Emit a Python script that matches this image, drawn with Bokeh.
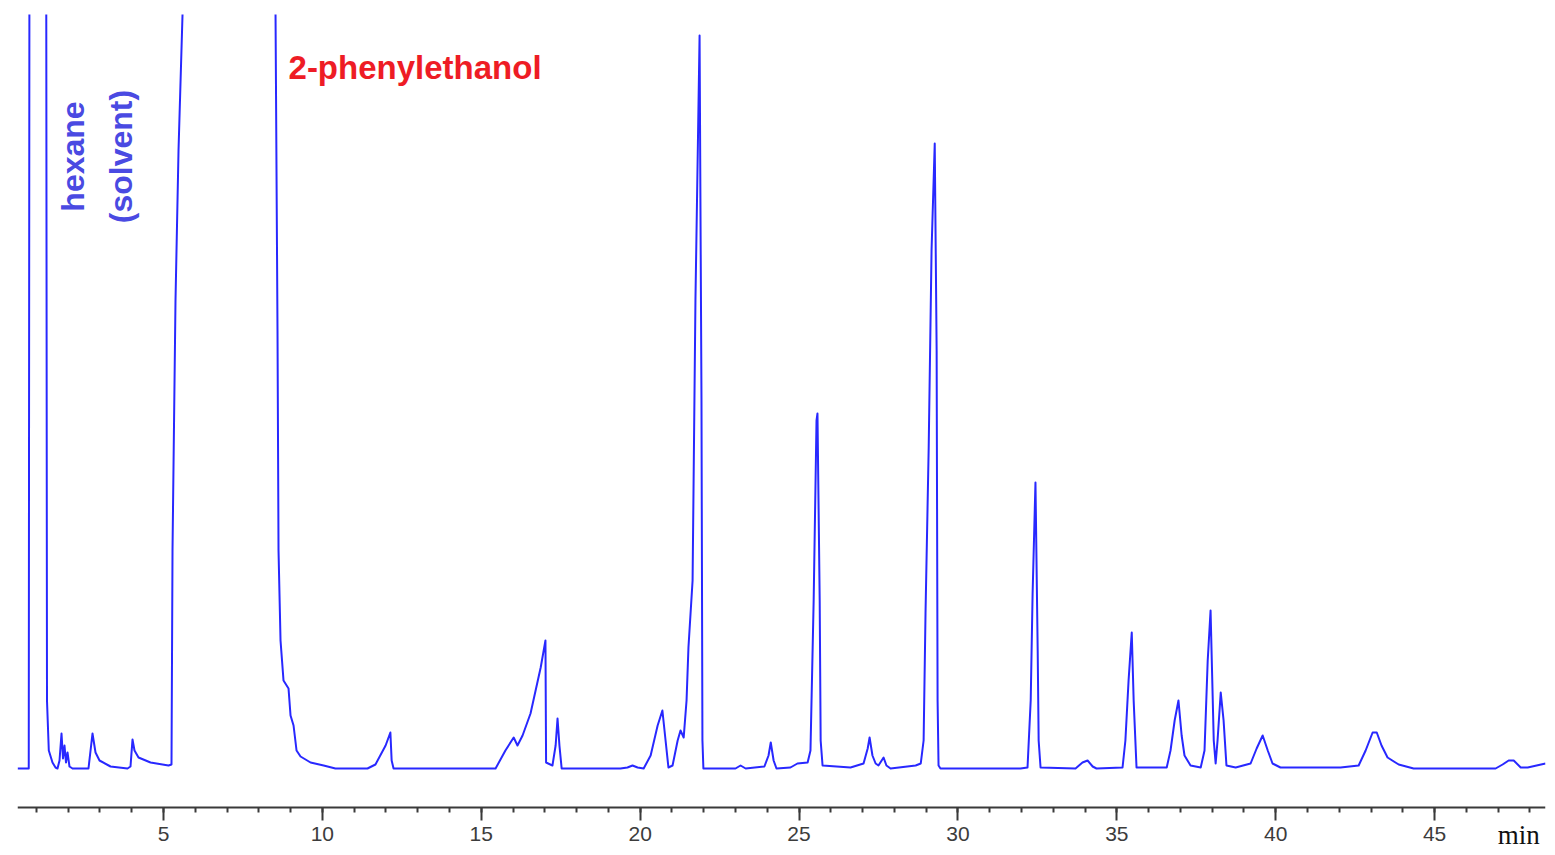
import math
from bokeh.plotting import figure
from bokeh.models import Range1d, FixedTicker, Label
from bokeh.embed import file_html
from bokeh.resources import INLINE

# Retention time (min) and detector signal (arbitrary units)
time_min = [0.41, 0.72, 0.76, 0.80, 1.25, 1.287, 1.334, 1.391, 1.507, 1.602,
            1.665, 1.728, 1.791, 1.838, 1.885, 1.932, 1.980, 2.042, 2.137,
            2.640, 2.766, 2.861, 2.987, 3.333, 3.868, 3.962, 4.025, 4.088, 4.214, 4.592,
            5.158, 5.252, 5.284, 5.378, 5.473, 5.599, 5.662,
            8.462, 8.526, 8.588, 8.620, 8.683, 8.777, 8.935, 8.998, 9.093, 9.187, 9.313,
            9.628, 10.04, 10.41, 11.42, 11.67, 11.99, 12.14, 12.18, 12.24,
            15.45, 15.76, 16.02, 16.14, 16.30, 16.55, 16.87, 17.02, 17.04, 17.24,
            17.34, 17.40, 17.46, 17.53,
            19.38, 19.60, 19.76, 19.92, 20.11, 20.33, 20.55, 20.70, 20.80, 20.89,
            21.02, 21.18, 21.27, 21.37, 21.46, 21.52, 21.65, 21.74, 21.87, 21.93, 21.96, 21.99,
            23.00, 23.16, 23.32, 23.91, 24.04, 24.11, 24.20, 24.29,
            24.73, 24.95, 25.27, 25.36, 25.46, 25.55, 25.58, 25.65, 25.68, 25.74,
            26.62, 27.03, 27.16, 27.22, 27.31, 27.41, 27.50, 27.66, 27.75, 27.88,
            28.67, 28.83, 28.92, 28.98, 29.08, 29.17, 29.27, 29.33, 29.36, 29.39, 29.45,
            31.97, 32.19, 32.29, 32.35, 32.44, 32.51, 32.54, 32.60,
            33.70, 33.92, 34.08, 34.24, 34.36,
            35.18, 35.27, 35.37, 35.47, 35.53, 35.62,
            36.57, 36.69, 36.82, 36.94, 37.04, 37.13, 37.32,
            37.64, 37.76, 37.86, 37.95, 38.05, 38.11, 38.17, 38.27, 38.36, 38.45,
            38.74, 39.21, 39.40, 39.59, 39.75, 39.90, 40.15,
            42.04, 42.61, 42.83, 43.05, 43.18, 43.33, 43.52, 43.87, 44.34,
            46.92, 47.14, 47.33, 47.49, 47.71, 47.93, 48.49]
signal = [0, 0, 0, 1500, 1500, 1500, 68, 18, 6, 1,
          0, 8, 35, 10, 23, 6, 16, 2, 0,
          0, 35, 16, 8, 2, 0, 2, 29, 18, 11, 6,
          3, 4, 218, 468, 618, 754, 1500,
          1500, 754, 438, 218, 128, 88, 80, 53, 43, 18, 12,
          6, 3, 0, 0, 4, 23, 36, 8, 0,
          0, 18, 31, 23, 33, 55, 101, 128, 6, 3,
          23, 50, 23, 0,
          0, 1, 3, 1, 0, 13, 43, 58, 28, 1,
          3, 28, 38, 31, 68, 121, 188, 468, 733, 368, 28, 0,
          0, 3, 0, 2, 13, 26, 8, 0,
          1, 5, 6, 18, 168, 348, 355, 168, 28, 3,
          1, 5, 20, 31, 13, 5, 3, 11, 3, 0,
          3, 5, 28, 155, 321, 518, 625, 418, 68, 3, 0,
          0, 1, 68, 175, 286, 118, 28, 1,
          0, 6, 8, 2, 0,
          1, 28, 88, 136, 68, 1,
          1, 18, 48, 68, 33, 13, 3,
          1, 18, 108, 158, 28, 5, 28, 76, 48, 3,
          1, 5, 20, 33, 18, 5, 1,
          1, 3, 18, 36, 36, 23, 11, 4, 0,
          0, 4, 8, 8, 1, 1, 5]

major_ticks = [5, 10, 15, 20, 25, 30, 35, 40, 45]
minor_ticks = list(range(1, 49))
axis_unit = "min"
peak_labels = ["hexane", "(solvent)", "2-phenylethanol"]

p = figure(width=1547, height=850, output_backend="svg", toolbar_location=None,
           x_range=Range1d(0.406, 48.49), y_range=Range1d(-82, 754),
           y_axis_location=None, min_border_left=17, min_border_right=2,
           min_border_top=14, min_border_bottom=0)
p.grid.visible = False
p.outline_line_color = None
p.background_fill_color = "white"

p.line(time_min, signal, line_color="#2828ff", line_width=2, line_join="round")

ax = p.xaxis[0]
ax.fixed_location = -39
ax.ticker = FixedTicker(ticks=major_ticks, minor_ticks=minor_ticks)
ax.axis_line_color = "#3a3a3a"
ax.axis_line_width = 2
ax.major_tick_line_color = "#3a3a3a"
ax.major_tick_line_width = 2
ax.major_tick_out = 13
ax.major_tick_in = 0
ax.minor_tick_line_color = "#3a3a3a"
ax.minor_tick_line_width = 2
ax.minor_tick_out = 5
ax.minor_tick_in = 0
ax.major_label_text_font = "Liberation Sans"
ax.major_label_text_font_size = "21px"
ax.major_label_text_color = "#3c3c3c"
ax.major_label_standoff = 6

p.add_layout(Label(x=47.65, y=-66, text=axis_unit, text_align="center", text_baseline="middle",
                   text_font="Liberation Serif", text_font_size="27px", text_color="#111111"))

p.add_layout(Label(x=2.168, y=612, text=peak_labels[0], angle=math.pi / 2,
                   text_align="center", text_baseline="middle", text_font="Liberation Sans",
                   text_font_style="bold", text_font_size="32px", text_color="#4a4ae2"))
p.add_layout(Label(x=3.648, y=612, text=peak_labels[1], angle=math.pi / 2,
                   text_align="center", text_baseline="middle", text_font="Liberation Sans",
                   text_font_style="bold", text_font_size="32px", text_color="#4a4ae2"))
p.add_layout(Label(x=8.935, y=701, text=peak_labels[2], text_align="left",
                   text_baseline="alphabetic", text_font="Liberation Sans",
                   text_font_style="bold", text_font_size="33px", text_color="#ee1c25"))

open("out.html", "w").write(file_html(p, INLINE))
